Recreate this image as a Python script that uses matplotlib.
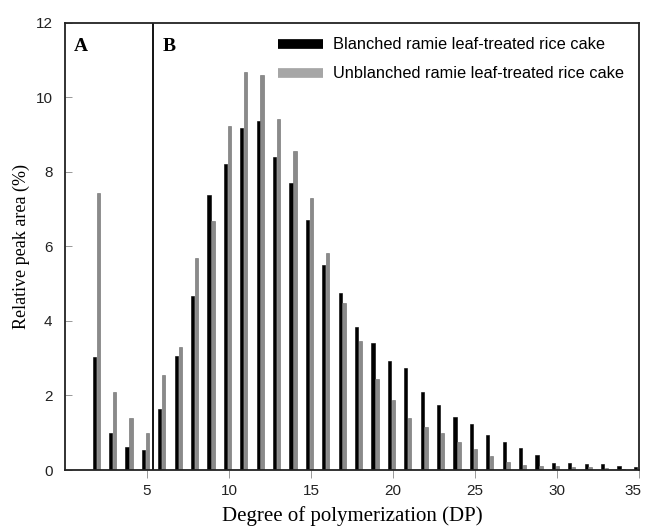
import numpy as np
import matplotlib
matplotlib.use("Agg")
import matplotlib.pyplot as plt
import matplotlib.transforms as mtransforms
from matplotlib.lines import Line2D

# -----------------------------
# DATA
# -----------------------------
dp = list(range(2, 36))
blanched = [3.02, 0.99, 0.62, 0.53, 1.63, 3.06, 4.67, 7.38, 8.21, 9.18,
            9.37, 8.39, 7.71, 6.70, 5.50, 4.76, 3.85, 3.40, 2.93, 2.73,
            2.09, 1.74, 1.43, 1.23, 0.94, 0.76, 0.60, 0.40, 0.20, 0.20,
            0.15, 0.15, 0.12, 0.07]
unblanched = [7.43, 2.08, 1.39, 0.98, 2.54, 3.31, 5.68, 6.67, 9.23, 10.68,
              10.60, 9.43, 8.57, 7.31, 5.82, 4.47, 3.47, 2.44, 1.88, 1.39,
              1.15, 0.98, 0.76, 0.57, 0.38, 0.22, 0.13, 0.10, 0.10, 0.07,
              0.07, 0.05, 0.04, 0.0]
series_names = ["Blanched ramie leaf-treated rice cake",
                "Unblanched ramie leaf-treated rice cake"]
divider_dp = 5.35

# -----------------------------
# PLOT
# -----------------------------
fig = plt.figure(figsize=(6.45, 5.29), dpi=100)
ax = fig.add_axes([0.1008, 0.1115, 0.8899, 0.8455])

x = np.array(dp)
w = 0.2
ax.bar(x - 0.22, blanched, width=w, color="black", edgecolor="black", linewidth=0.4)
ax.bar(x + 0.02, unblanched, width=w, color="#8a8a8a", edgecolor="#6a6a6a", linewidth=0.4)

ax.axvline(divider_dp, color="black", linewidth=1.3)

ax.set_xlim(0, 35)
ax.set_ylim(0, 12)
ax.set_xticks([5, 10, 15, 20, 25, 30, 35])
ax.set_yticks(range(0, 13, 2))

for s in ax.spines.values():
    s.set_linewidth(1.3)
    s.set_color("#222222")

ax.tick_params(axis="y", direction="in", length=5, width=0.6, color="#888888",
               labelsize=11, pad=9)
ax.tick_params(axis="x", direction="out", length=6, width=0.6, color="#888888",
               labelsize=11, pad=4)
for lab in ax.get_xticklabels() + ax.get_yticklabels():
    lab.set_fontfamily("Liberation Sans")
    lab.set_color("#222222")

# keep the last x tick label inside the figure
last = ax.get_xticklabels()[-1]
last.set_transform(last.get_transform() +
                   mtransforms.ScaledTranslation(-6 / 100, 0, fig.dpi_scale_trans))

ax.set_xlabel("Degree of polymerization (DP)", fontfamily="Liberation Serif",
              fontsize=15, labelpad=6)
ax.set_ylabel("Relative peak area (%)", fontfamily="Liberation Serif",
              fontsize=13, labelpad=4)

ax.text(0.016, 0.967, "A", transform=ax.transAxes, fontfamily="Liberation Serif",
        fontweight="bold", fontsize=14, va="top", ha="left")
ax.text(0.170, 0.967, "B", transform=ax.transAxes, fontfamily="Liberation Serif",
        fontweight="bold", fontsize=14, va="top", ha="left")

handles = [Line2D([], [], color="black", linewidth=7, solid_capstyle="butt"),
           Line2D([], [], color="#a6a6a6", linewidth=7, solid_capstyle="butt")]
leg = ax.legend(handles, series_names, loc="upper left",
                bbox_to_anchor=(0.345, 1.0), frameon=False, handlelength=2.75,
                handletextpad=0.6, labelspacing=0.85,
                prop={"family": "Liberation Sans", "size": 11.8})

fig.savefig("out.png", dpi=100)
